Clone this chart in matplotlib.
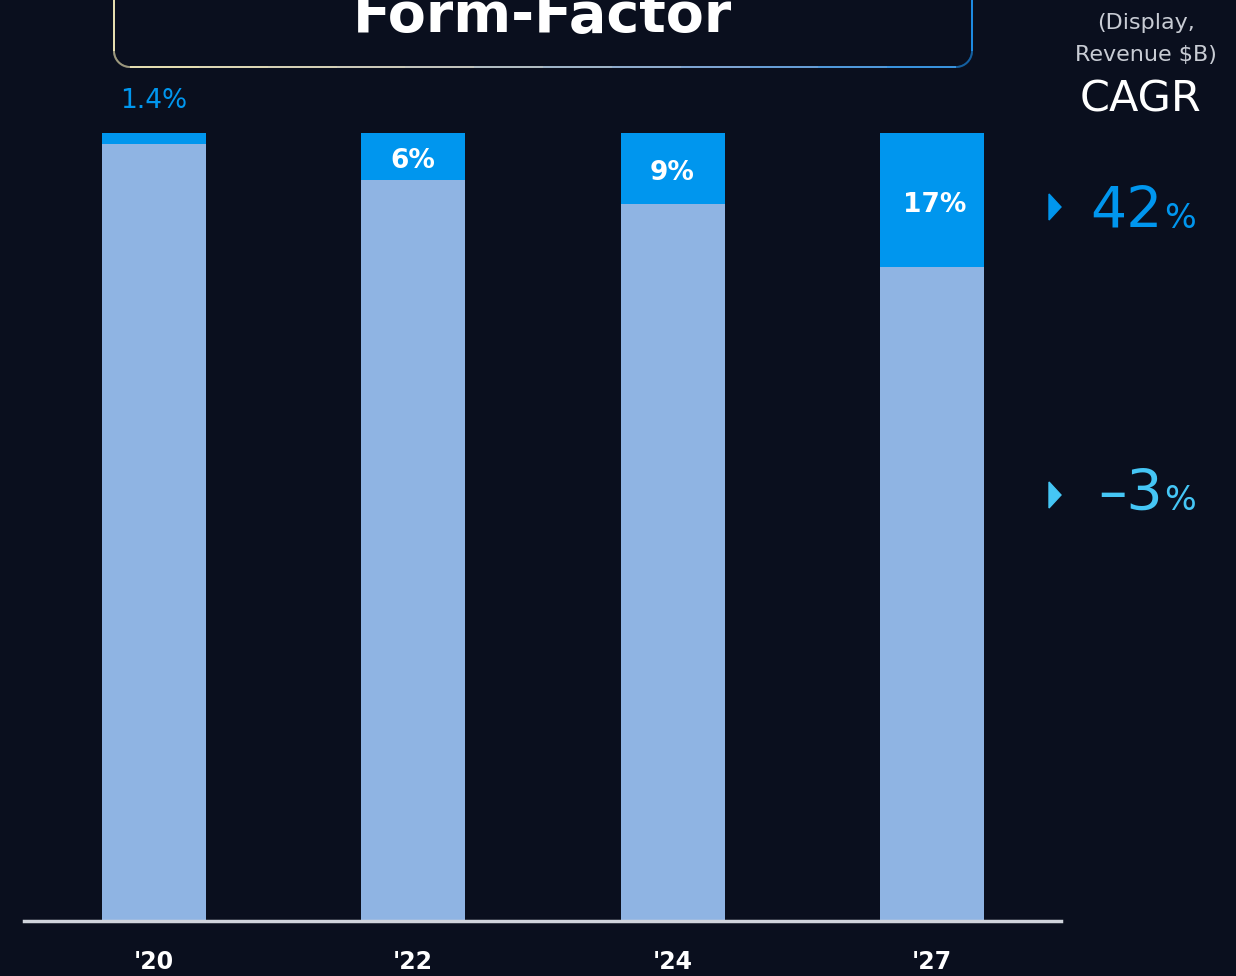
import numpy as np
import matplotlib
matplotlib.use('Agg')
import matplotlib.pyplot as plt
from matplotlib.collections import LineCollection
from matplotlib.colors import LinearSegmentedColormap
from matplotlib.patches import Polygon

# data
years = ["'20", "'22", "'24", "'27"]
form_factor_share = [1.4, 6, 9, 17]
other_share = [100 - v for v in form_factor_share]
share_labels = ['1.4%', '6%', '9%', '17%']
cagr_labels = ['42', '-3']

BG = '#0a0f1e'
LIGHT = '#8fb4e3'
BLUE = '#0096ee'
CYAN = '#45c6f5'

plt.rcParams['font.family'] = ['DejaVu Sans']

W, H = 1236, 976
fig = plt.figure(figsize=(W / 100, H / 100), dpi=100, facecolor=BG)


def fx(px):
    return px / W


def fy(py):
    return 1 - py / H


ax = fig.add_axes([fx(24), fy(921), fx(1061) - fx(24), fy(133) - fy(921)])
ax.set_facecolor(BG)
x = np.arange(len(years))
width = 0.401
ax.bar(x, other_share, width, color=LIGHT)
ax.bar(x, form_factor_share, width, bottom=other_share, color=BLUE)
ax.set_xlim(-0.501, 3.498)
ax.set_ylim(0, 100)
for side in ax.spines:
    ax.spines[side].set_visible(False)
ax.axhline(0, color='#d0d4dc', lw=2.5, clip_on=False)
ax.set_yticks([])
ax.set_xticks(x)
ax.set_xticklabels(years, color='white', fontsize=17, fontweight='bold')
ax.tick_params(axis='x', length=0, pad=21)

for i, (s, lab) in enumerate(zip(form_factor_share, share_labels)):
    if s < 3:
        ax.text(i, 100 + 4.1, lab, ha='center', va='center', color=BLUE,
                fontsize=19, clip_on=False)
    else:
        ax.text(i + (0.01 if s > 10 else 0), 100 - s / 2 - 0.6, lab,
                ha='center', va='center', color='white', fontsize=19,
                fontweight='bold')

# title box with gradient border
l, r, b, t, rad = 114, 972, 67, -40, 16
pts = []
th = np.linspace(np.pi, 1.5 * np.pi, 20)
pts += [(l, t)]
pts += [(l + rad + rad * np.cos(a), b - rad - rad * np.sin(a)) for a in th]
th = np.linspace(1.5 * np.pi, 2 * np.pi, 20)
pts += [(r - rad + rad * np.cos(a), b - rad - rad * np.sin(a)) for a in th]
pts += [(r, t)]
pts = np.array(pts)
dense = []
for p0, p1 in zip(pts[:-1], pts[1:]):
    for f in np.linspace(0, 1, 12, endpoint=False):
        dense.append(p0 + (p1 - p0) * f)
dense.append(pts[-1])
dense = np.array(dense)
figpts = np.column_stack([fx(dense[:, 0]), fy(dense[:, 1])])
segs = np.stack([figpts[:-1], figpts[1:]], axis=1)
cmap = LinearSegmentedColormap.from_list(
    'border', ['#ece3b4', '#c8c8c0', '#7fa8d8', '#1e8ee8'])
vals = (dense[:-1, 0] - l) / (r - l)
lc = LineCollection(segs, cmap=cmap, linewidths=1.4,
                    transform=fig.transFigure)
lc.set_array(vals)
fig.add_artist(lc)

fig.text(fx(543), fy(17), 'Form-Factor', ha='center', va='center',
         color='white', fontsize=40, fontweight='bold')

# right side legend
fig.text(fx(1146), fy(23), '(Display,', ha='center', va='center',
         color='#c8ccd4', fontsize=16)
fig.text(fx(1146), fy(55), 'Revenue $B)', ha='center', va='center',
         color='#c8ccd4', fontsize=16)
fig.text(fx(1140), fy(100), 'CAGR', ha='center', va='center',
         color='white', fontsize=31)

for lab, ypx, col in zip(cagr_labels, [212, 495], [BLUE, CYAN]):
    tri_y = ypx - 5 if ypx == 212 else ypx
    tri = Polygon([(fx(1049), fy(tri_y - 13)), (fx(1049), fy(tri_y + 13)),
                   (fx(1061), fy(tri_y))], closed=True, color=col,
                  transform=fig.transFigure)
    fig.add_artist(tri)
    txt = lab.replace('-', '\u2013')
    fig.text(fx(1163), fy(ypx), txt, ha='right', va='center', color=col,
             fontsize=41)
    fig.text(fx(1164), fy(ypx + 6), '%', ha='left', va='center', color=col,
             fontsize=24)

fig.savefig('out.png', dpi=100, facecolor=BG)
